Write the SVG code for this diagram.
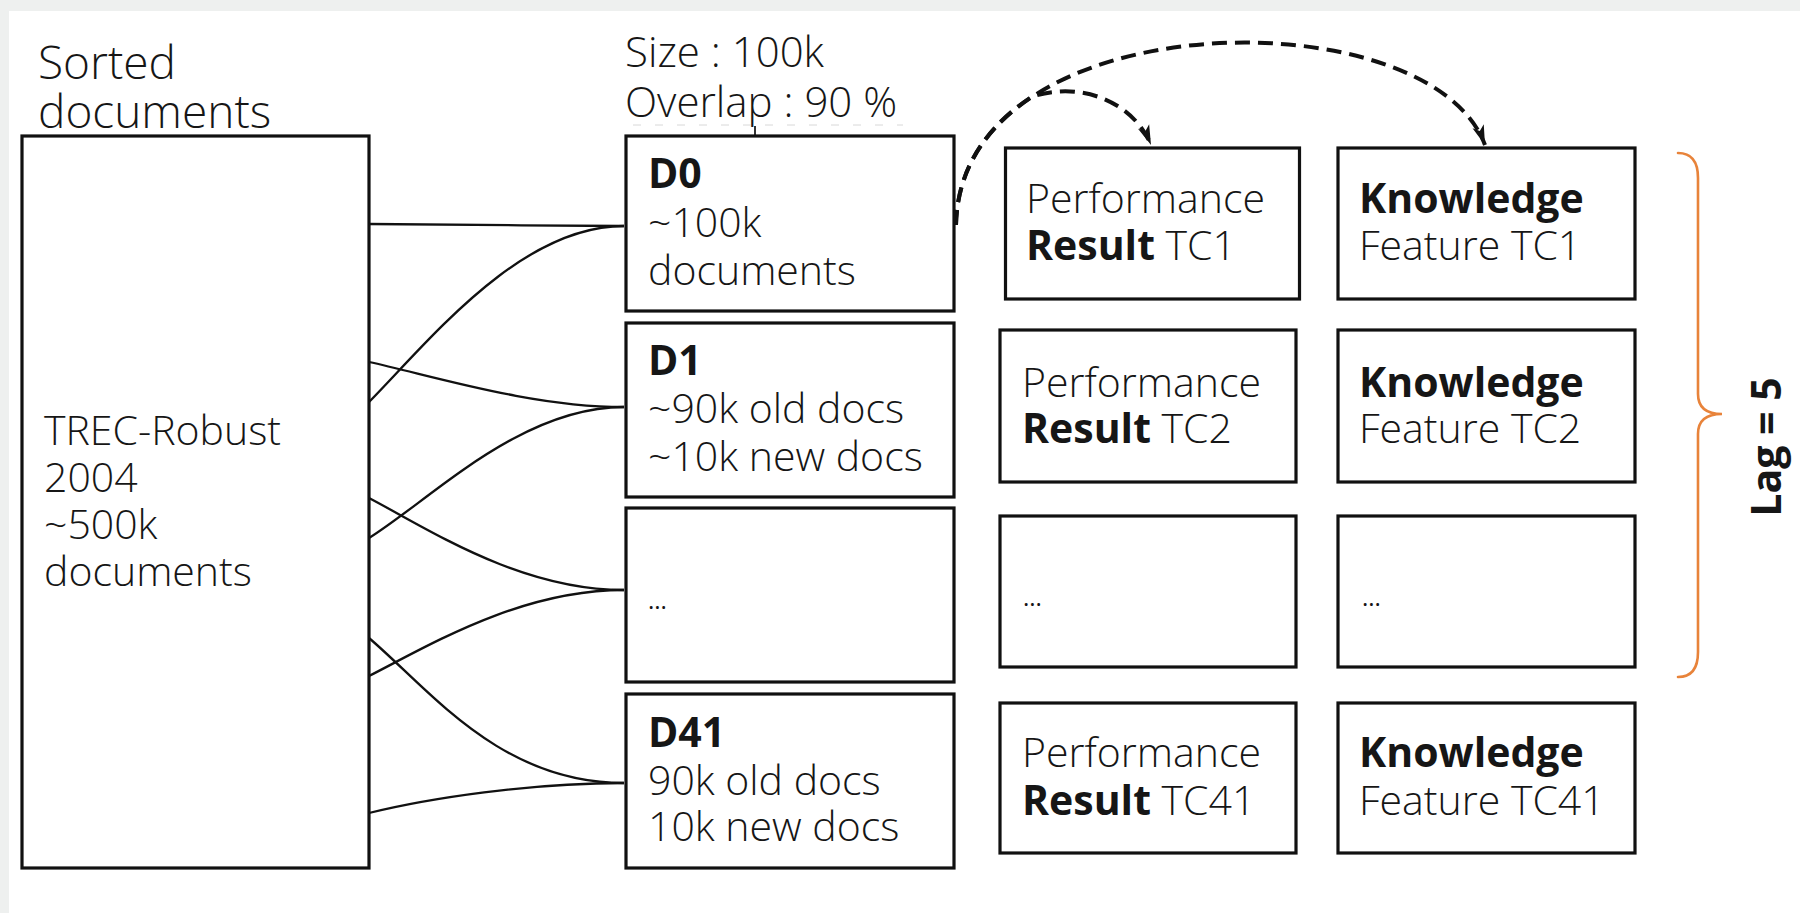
<svg xmlns="http://www.w3.org/2000/svg" width="1800" height="913" viewBox="0 0 1800 913">
  <style>
    .box { fill: #ffffff; stroke: #111111; stroke-width: 3.2; }
    .t { font-family: "Open Sans", "Noto Sans", "DejaVu Sans", sans-serif; font-weight: 300; font-size: 41px; fill: #161616; }
    .hd { font-size: 46px; }
    .sz { font-size: 42px; }
    .b { font-weight: 700; }
    .dots { font-size: 24px; font-weight: 400; }
    .link { fill: none; stroke: #111111; stroke-width: 2.3; }
    .dash { fill: none; stroke: #111111; stroke-width: 4; stroke-dasharray: 15 8; }
    .brace { fill: none; stroke: #e8833a; stroke-width: 2.6; stroke-linecap: round; }
  </style>
  <defs>
    <marker id="arr" markerUnits="userSpaceOnUse" markerWidth="22" markerHeight="16" refX="20" refY="8" orient="auto">
      <path d="M0,2 L20,8 L0,14 L5,8 Z" fill="#111111"/>
    </marker>
  </defs>

  <rect x="0" y="0" width="1800" height="913" fill="#eef0ef"/>
  <rect x="9" y="11" width="1791" height="902" fill="#ffffff"/>

  <g id="labels">
    <text class="t hd" x="38" y="79">Sorted</text>
    <text class="t hd" x="38" y="128">documents</text>
    <text class="t sz" x="625" y="67">Size : 100k</text>
    <text class="t sz" x="625" y="117">Overlap : 90 %</text>
    <line x1="633" y1="125" x2="903" y2="125" stroke="#d8d8d8" stroke-width="1" stroke-dasharray="8 14"/>
    <line x1="755" y1="126" x2="755" y2="135" stroke="#333333" stroke-width="2"/>
  </g>

  <g id="corpus">
    <rect class="box" x="22" y="136" width="347" height="732"/>
    <text class="t" x="44" y="445">TREC-Robust</text>
    <text class="t" x="44" y="492">2004</text>
    <text class="t" x="44" y="539">~500k</text>
    <text class="t" x="44" y="586">documents</text>
  </g>

  <g id="connectors">
    <path class="link" d="M369,224 C450,224 540,226 624,226"/>
    <path class="link" d="M369,402 C430,340 520,226 624,226"/>
    <path class="link" d="M369,362 C430,375 530,407 624,407"/>
    <path class="link" d="M369,538 C430,500 520,407 624,407"/>
    <path class="link" d="M369,498 C430,530 520,590 624,590"/>
    <path class="link" d="M369,676 C430,645 520,590 624,590"/>
    <path class="link" d="M369,638 C430,690 500,783 624,783"/>
    <path class="link" d="M369,813 C430,798 530,783 624,783"/>
    <path class="dash" d="M956,225 C960,0 1430,-5 1485,145" marker-end="url(#arr)"/>
    <path class="dash" d="M956,225 C957.25,168.75 986.56,126.25 1032.19,96.48 C1085,80 1135,105 1151,145" marker-end="url(#arr)"/>
  </g>

  <g id="d0">
    <rect class="box" x="626" y="136" width="328" height="175"/>
    <text class="t b" x="648" y="188">D0</text>
    <text class="t" x="648" y="237">~100k</text>
    <text class="t" x="648" y="285">documents</text>
  </g>
  <g id="d1">
    <rect class="box" x="626" y="323" width="328" height="174"/>
    <text class="t b" x="648" y="375">D1</text>
    <text class="t" x="648" y="423">~90k old docs</text>
    <text class="t" x="648" y="471">~10k new docs</text>
  </g>
  <g id="d-dots">
    <rect class="box" x="626" y="508" width="328" height="174"/>
    <text class="t dots" x="648" y="609">...</text>
  </g>
  <g id="d41">
    <rect class="box" x="626" y="694" width="328" height="174"/>
    <text class="t b" x="648" y="747">D41</text>
    <text class="t" x="648" y="795">90k old docs</text>
    <text class="t" x="648" y="841">10k new docs</text>
  </g>

  <g id="perf-tc1">
    <rect class="box" x="1005.5" y="148" width="294" height="151"/>
    <text class="t" x="1026" y="213">Performance</text>
    <text class="t" x="1026" y="260"><tspan class="b">Result</tspan> TC1</text>
  </g>
  <g id="know-tc1">
    <rect class="box" x="1338" y="148" width="297" height="151"/>
    <text class="t b" x="1359" y="213">Knowledge</text>
    <text class="t" x="1359" y="260">Feature TC1</text>
  </g>
  <g id="perf-tc2">
    <rect class="box" x="1000" y="330" width="296" height="152"/>
    <text class="t" x="1022" y="397">Performance</text>
    <text class="t" x="1022" y="443"><tspan class="b">Result</tspan> TC2</text>
  </g>
  <g id="know-tc2">
    <rect class="box" x="1338" y="330" width="297" height="152"/>
    <text class="t b" x="1359" y="397">Knowledge</text>
    <text class="t" x="1359" y="443">Feature TC2</text>
  </g>
  <g id="perf-dots">
    <rect class="box" x="1000" y="516" width="296" height="151"/>
    <text class="t dots" x="1023" y="606">...</text>
  </g>
  <g id="know-dots">
    <rect class="box" x="1338" y="516" width="297" height="151"/>
    <text class="t dots" x="1362" y="606">...</text>
  </g>
  <g id="perf-tc41">
    <rect class="box" x="1000" y="703" width="296" height="150"/>
    <text class="t" x="1022" y="767">Performance</text>
    <text class="t" x="1022" y="815"><tspan class="b">Result</tspan> TC41</text>
  </g>
  <g id="know-tc41">
    <rect class="box" x="1338" y="703" width="297" height="150"/>
    <text class="t b" x="1359" y="767">Knowledge</text>
    <text class="t" x="1359" y="815">Feature TC41</text>
  </g>

  <g id="lag">
    <path class="brace" d="M1678,153 Q1698,153 1698,178 L1698,394 Q1698,414 1722,414 Q1698,414 1698,434 L1698,652 Q1698,677 1678,677"/>
    <text class="t b" transform="translate(1781,447) rotate(-90)" x="0" y="0" text-anchor="middle" font-size="31">Lag = 5</text>
  </g>
</svg>
